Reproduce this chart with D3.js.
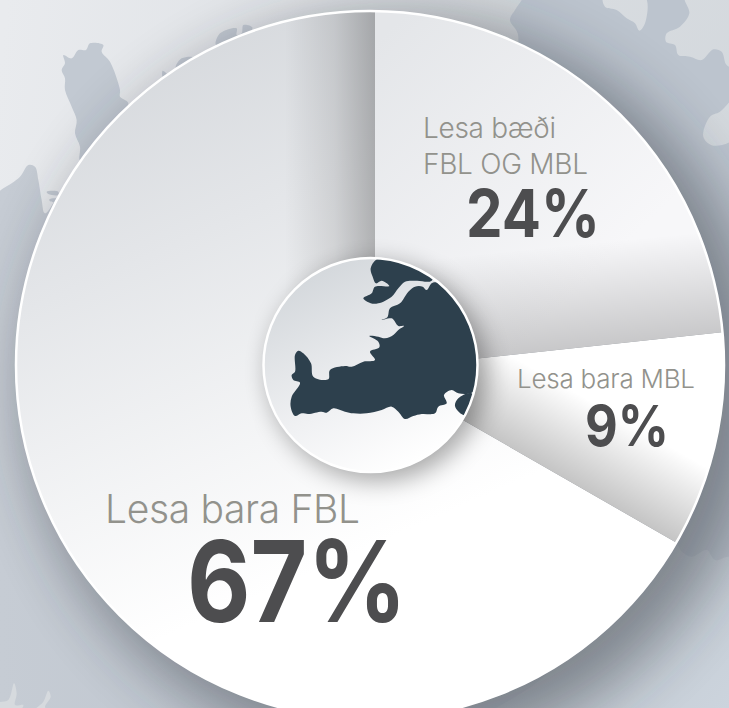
<!DOCTYPE html>
<html>
<head>
<meta charset="utf-8">
<script src="https://cdn.jsdelivr.net/npm/d3@7"></script>
<style>
  html, body { margin: 0; padding: 0; background: #fff; overflow: hidden; }
  svg { display: block; }
  text { font-family: Inter, "Noto Sans", sans-serif; }
</style>
</head>
<body>
<script>
// data, clockwise from the vertical seam
const categories = ["Lesa bæði FBL OG MBL", "Lesa bara MBL", "Lesa bara FBL"];
const percentLabels = [24, 9, 67];
const sliceShares = [23.3, 10, 66.7]; // share of the circle as it is actually drawn in the picture
const labelLines = [["Lesa bæði", "FBL OG MBL"], ["Lesa bara MBL"], ["Lesa bara FBL"]];

// layout
const width = 729, height = 708;
const disc = {x: 370, y: 365, r: 354};
const apex = {x: 375, y: 369.5};
const hub = {x: 370.5, y: 365, r: 107};

// label placement: left edge, baselines, sizes, widths per slice
const labelStyle = [
  {x: 423, lineY: [138, 174], size: 28, widths: [133, 165], vx: 466, vy: 237, vsize: 66, vwidth: 134},
  {x: 517, lineY: [388], size: 26, widths: [178], vx: 585, vy: 446, vsize: 56.5, vwidth: 84},
  {x: 105, lineY: [523], size: 39, widths: [255], vx: 187, vy: 622, vsize: 113, vwidth: 220}
];

// backdrop map outlines, traced at 3x from the picture (x0,y0 is the crop corner)
const seaTopLeft = {x0: 0, y0: 0, pts: [[-10,-10],[1570,-10],[1565,0],[1545,30],[1530,60],[1555,110],[1400,500],[400,500],[200,560],[135,640],[125,600],[115,540],[105,500],[85,495],[60,530],[10,565],[-10,575]]};
const lands = [
  {x0: 0, y0: 0, pts: [[190,165],[215,175],[235,150],[258,150],[270,130],[310,135],[305,155],[330,185],[360,270],[360,290],[385,310],[240,480],[240,440],[225,400],[230,360],[215,320],[195,270],[195,235],[185,210],[195,190]]},
  {x0: 0, y0: 0, pts: [[648,135],[660,100],[710,85],[710,105],[725,100],[730,75],[757,82],[740,110]]},
  {x0: 0, y0: 0, pts: [[527,200],[545,175],[580,172],[530,210]]},
  {x0: 0, y0: 0, pts: [[488,212],[502,224],[488,230]]},
  {x0: 0, y0: 0, pts: [[140,575],[175,575],[175,585],[145,582]]},
  {x0: 0, y0: 0, pts: [[148,598],[170,596],[165,606],[150,604]]}
];
const seaTopRight = [
  {x0: 370, y0: 0, pts: [[700,-10],[705,20],[740,30],[770,55],[795,70],[808,92],[825,70],[825,-10]]},
  {x0: 370, y0: 0, pts: [[945,-10],[958,40],[930,80],[890,100],[888,125],[915,135],[925,165],[960,170],[995,180],[1030,148],[1055,155],[1070,195],[1100,205],[1100,-10]]},
  {x0: 370, y0: 0, pts: [[1100,290],[1050,335],[1020,350],[1000,410],[1030,437],[1100,410]]}
];
const seaBottom = [
  {x0: 640, y0: 480, pts: [[105,190],[125,215],[155,230],[200,210],[225,240],[265,230],[300,240],[300,800],[-600,800],[-300,600]]},
  {x0: 0, y0: 600, pts: [[42,250],[50,280],[45,315],[70,315],[60,330],[-10,330],[-10,310],[25,300]]},
  {x0: 0, y0: 600, pts: [[145,272],[152,290],[135,320],[140,330],[105,330],[130,305]]}
];
// inset map inside the hub, traced at 3x from crop corner (250,240)
const hubMap = [
  [[380,58],[362,85],[368,110],[378,130],[395,122],[418,138],[375,140],[365,160],[340,175],[362,190],[385,190],[425,170],[445,145],[465,125],[500,122],[545,122],[560,50],[450,40]],
  [[548,128],[530,150],[518,140],[495,140],[475,155],[450,190],[420,205],[412,232],[395,240],[425,235],[445,258],[462,258],[445,270],[430,285],[405,295],[385,290],[358,288],[385,305],[388,322],[360,335],[375,360],[340,365],[305,380],[285,378],[240,390],[235,418],[190,410],[183,370],[160,340],[145,332],[135,345],[135,395],[125,405],[130,420],[150,428],[125,470],[122,500],[135,528],[155,520],[175,522],[215,515],[230,518],[250,505],[285,515],[310,520],[350,520],[395,510],[425,500],[445,515],[465,537],[490,528],[515,522],[555,520],[565,500],[590,490],[582,465],[605,450],[625,460],[665,458],[720,400],[700,250],[620,150]],
  [[665,460],[625,475],[615,498],[640,525],[690,520]]
];

const svg = d3.select("body").append("svg")
    .attr("width", width)
    .attr("height", height);
const defs = svg.append("defs");

function gradient(id, x1, y1, x2, y2, stops) {
  const g = defs.append("linearGradient").attr("id", id)
      .attr("gradientUnits", "userSpaceOnUse")
      .attr("x1", x1).attr("y1", y1).attr("x2", x2).attr("y2", y2);
  stops.forEach(function(s) {
    g.append("stop").attr("offset", s[0]).attr("stop-color", s[1]).attr("stop-opacity", s[2] === undefined ? 1 : s[2]);
  });
}

gradient("seaGrad", 0, 60, 560, 120, [[0, "#e9ebee"], [0.5, "#e0e3e7"], [1, "#cfd4d8"]]);
gradient("landGrad", 0, 300, 729, 300, [[0, "#c6ccd4"], [0.5, "#bcc4ce"], [1, "#bcc4ce"]]);
gradient("seaRightGrad", 560, 0, 729, 200, [[0, "#d8dce0"], [1, "#d2d7dc"]]);
gradient("seaBottomGrad", 500, 500, 729, 708, [[0, "#b9c0c7"], [1, "#ccd4dd"]]);
gradient("slice0", 400, 20, 620, 250, [[0, "#e4e6e9"], [1, "#f7f7f9"]]);
gradient("slice1", 500, 340, 700, 500, [[0, "#ffffff"], [1, "#ffffff"]]);
gradient("slice2", 120, 60, 340, 560, [[0, "#d6d9dd"], [0.35, "#e4e6e9"], [1, "#ffffff"]]);
gradient("seamShade", 375, 0, 285, 0, [[0, "#000", 0.25], [0.45, "#000", 0.1], [1, "#000", 0]]);
gradient("band0", 600, 345, 590, 243, [[0, "#000", 0.19], [1, "#000", 0]]);
gradient("band1", 570, 482, 610, 412, [[0, "#000", 0.23], [1, "#000", 0]]);
gradient("hubGrad", 300, 280, 400, 470, [[0, "#d4d8dc"], [0.6, "#f0f1f3"], [1, "#ffffff"]]);

const blur = defs.append("filter").attr("id", "bigBlur")
    .attr("x", "-30%").attr("y", "-30%").attr("width", "160%").attr("height", "160%");
blur.append("feGaussianBlur").attr("stdDeviation", 30);
const hubBlur = defs.append("filter").attr("id", "hubBlur")
    .attr("x", "-30%").attr("y", "-30%").attr("width", "160%").attr("height", "160%");
hubBlur.append("feGaussianBlur").attr("stdDeviation", 12);

defs.append("clipPath").attr("id", "discClip")
  .append("circle").attr("cx", disc.x).attr("cy", disc.y).attr("r", disc.r);
defs.append("clipPath").attr("id", "hubClip")
  .append("circle").attr("cx", hub.x).attr("cy", hub.y).attr("r", hub.r);

// outlines are smoothed, they were only traced at a few points
const smooth = d3.line().curve(d3.curveCatmullRomClosed.alpha(0.5));
function outline(shape) {
  return smooth(shape.pts.map(p => [shape.x0 + p[0] / 3, shape.y0 + p[1] / 3]));
}

// backdrop
const back = svg.append("g");
back.append("rect").attr("width", width).attr("height", height).attr("fill", "url(#landGrad)");
back.append("path").attr("d", outline(seaTopLeft)).attr("fill", "url(#seaGrad)");
back.selectAll(".land").data(lands).enter().append("path")
    .attr("class", "land")
    .attr("d", outline)
    .attr("fill", "#c2c9d2");
back.selectAll(".seaTR").data(seaTopRight).enter().append("path")
    .attr("class", "seaTR")
    .attr("d", outline)
    .attr("fill", "url(#seaRightGrad)");
back.selectAll(".seaB").data(seaBottom).enter().append("path")
    .attr("class", "seaB")
    .attr("d", outline)
    .attr("fill", (d, i) => i === 0 ? "url(#seaBottomGrad)" : "#d6dade");

// shadow the pie throws on the backdrop
back.append("circle")
    .attr("cx", disc.x + 24).attr("cy", disc.y + 20).attr("r", disc.r + 14)
    .attr("fill", "#23282e").attr("opacity", 0.42)
    .attr("filter", "url(#bigBlur)");

// slices, the wedges meet just off the disc centre so they get clipped to the disc
const pie = d3.pie().sort(null).value(d => d);
const arc = d3.arc().innerRadius(0).outerRadius(460);
const arcs = pie(sliceShares);

const pieG = svg.append("g").attr("clip-path", "url(#discClip)");
defs.selectAll("linearGradient").filter(function() { return /^(slice|band)/.test(this.id); })
    .attr("gradientTransform", "translate(" + (-apex.x) + "," + (-apex.y) + ")");
const wedges = pieG.append("g").attr("transform", "translate(" + apex.x + "," + apex.y + ")");

wedges.selectAll(".slice").data(arcs).enter().append("path")
    .attr("class", "slice")
    .attr("d", arc)
    .attr("fill", (d, i) => "url(#slice" + i + ")");

// shading
wedges.append("path").attr("d", arc(arcs[0])).attr("fill", "url(#band0)");
wedges.append("path").attr("d", arc(arcs[1])).attr("fill", "url(#band1)");
pieG.append("rect")
    .attr("x", 285).attr("y", 0).attr("width", apex.x - 285).attr("height", apex.y)
    .attr("fill", "url(#seamShade)");

// hub shadow stays inside the pie
pieG.append("circle")
    .attr("cx", hub.x + 7).attr("cy", hub.y + 7).attr("r", hub.r + 2)
    .attr("fill", "#000").attr("opacity", 0.33)
    .attr("filter", "url(#hubBlur)");

// rim
svg.append("circle")
    .attr("cx", disc.x).attr("cy", disc.y).attr("r", disc.r)
    .attr("fill", "none").attr("stroke", "#fff").attr("stroke-width", 2.5);

// hub with the inset map
svg.append("circle")
    .attr("cx", hub.x).attr("cy", hub.y).attr("r", hub.r)
    .attr("fill", "url(#hubGrad)");
svg.append("g").attr("clip-path", "url(#hubClip)")
  .selectAll("path").data(hubMap).enter().append("path")
    .attr("d", d => outline({x0: 250, y0: 240, pts: d}))
    .attr("fill", "#2d404d");
svg.append("circle")
    .attr("cx", hub.x).attr("cy", hub.y).attr("r", hub.r)
    .attr("fill", "none").attr("stroke", "#fff").attr("stroke-width", 2.5);

// labels
const labels = svg.append("g");
categories.forEach(function(c, i) {
  const s = labelStyle[i];
  labelLines[i].forEach(function(line, j) {
    labels.append("text")
        .attr("x", s.x).attr("y", s.lineY[j])
        .attr("font-size", s.size).attr("font-weight", 300)
        .attr("textLength", s.widths[j]).attr("lengthAdjust", "spacing")
        .attr("fill", "#92928c")
        .text(line);
  });
  // the picture's numerals are narrower than Inter, squeeze to the measured width
  const value = labels.append("text")
      .attr("font-size", s.vsize).attr("font-weight", 700)
      .attr("fill", "#4d4d4f")
      .text(percentLabels[i] + "%");
  const sx = s.vwidth / value.node().getComputedTextLength();
  value.attr("transform", "translate(" + s.vx + "," + s.vy + ") scale(" + sx + ",1)");
});
</script>
</body>
</html>
